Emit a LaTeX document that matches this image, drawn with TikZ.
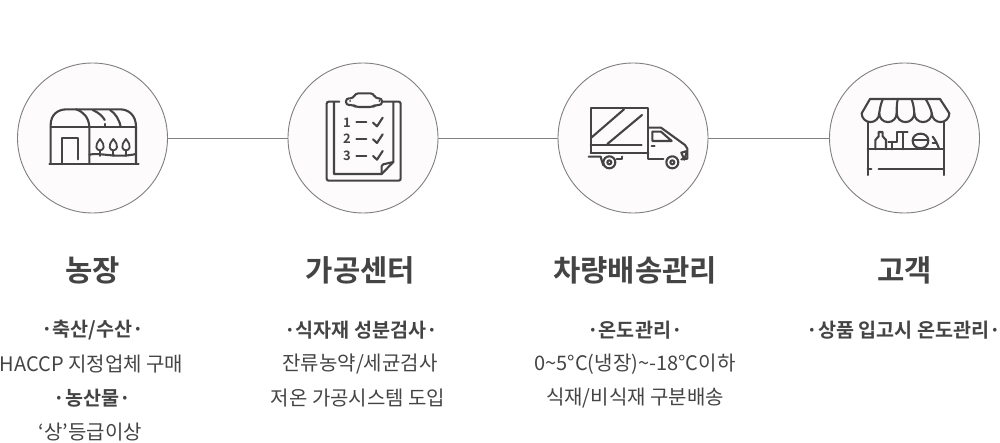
\documentclass[tikz,border=0pt]{standalone}
\usepackage{fontspec}
\setmainfont{Noto Sans CJK KR}[BoldFont={Noto Sans CJK KR Bold}]
\definecolor{ink}{HTML}{444444}
\definecolor{ringc}{HTML}{808080}
\definecolor{fillc}{HTML}{FDFBFC}
\tikzset{
 ring/.style={circle,draw=ringc,fill=fillc,line width=.9pt,minimum size=150pt,inner sep=0pt},
 link/.style={draw=ringc,line width=.9pt},
 title/.style={text=ink,font=\bfseries\fontsize{29.7}{32}\selectfont,inner sep=0pt,anchor=center},
 head/.style={text=ink,font=\bfseries\fontsize{19.6}{22}\selectfont,inner sep=0pt,anchor=center},
 body/.style={text=ink,font=\fontsize{20}{22}\selectfont,inner sep=0pt,anchor=center},
 icon/.style={draw=ink,line width=2.1pt,line cap=round,line join=round},
 iconbox/.style={x=.33333pt,y=-.33333pt},
 digit/.style={text=ink,font=\bfseries\fontsize{13}{14}\selectfont,inner sep=0pt}
}
\begin{document}
\begin{tikzpicture}[x=1pt,y=-1pt]
\useasboundingbox (0,0) rectangle (1000,443);
\fill[white] (0,0) rectangle (1000,443);
\node[ring] (farm) at (92.5,138) {};
\node[ring] (proc) at (363,138) {};
\node[ring] (truck) at (633,138) {};
\node[ring] (shop) at (904.5,138) {};
\draw[link] (farm) -- (proc);
\draw[link] (proc) -- (truck);
\draw[link] (truck) -- (shop);
% farm icon
\begin{scope}[shift={(0,60)},iconbox]
\draw[icon] (148,312) -- (416,312);
\draw[icon] (152,312) -- (152,195) .. controls (152,165) and (172,148) .. (200,148) -- (360,148) .. controls (388,148) and (408,168) .. (408,200) -- (408,312);
\draw[icon] (152,202) -- (408,202);
\draw[icon] (268,312) -- (268,200) .. controls (266,172) and (250,155) .. (228,148);
\draw[icon] (278,150) .. controls (298,158) and (310,172) .. (314,180);
\draw[icon] (316,192) -- (316,201);
\draw[icon] (330,150) .. controls (346,160) and (358,178) .. (362,201);
\draw[icon] (185,312) -- (185,235) -- (233,235) -- (233,298);
\draw[icon] (268,284) .. controls (300,276) and (345,296) .. (408,282);
\foreach \tx in {300,340,378}{
 \draw[icon,line width=1.8pt] (\tx,237) .. controls (\tx-8,248) and (\tx-13,255) .. (\tx-11,262) .. controls (\tx-9,274) and (\tx+9,274) .. (\tx+11,262) .. controls (\tx+13,255) and (\tx+8,248) .. (\tx,237) -- cycle;
 \draw[icon,line width=1.8pt] (\tx,272) -- (\tx,288);
}
\end{scope}
% clipboard icon
\begin{scope}[shift={(280,60)},iconbox]
\draw[icon,rounded corners=2pt] (178,125) -- (140,125) -- (140,362) -- (362,362) -- (362,125) -- (308,125);
\draw[icon] (162,127) -- (162,342) -- (305,342) -- (340,306) -- (340,127);
\draw[icon,rounded corners=1.5pt] (305,342) -- (305,314) -- (340,306);
\draw[icon,rounded corners=3pt] (198,115) -- (220,115) -- (226,100) -- (280,100) -- (286,115) -- (306,115) -- (306,135) -- (286,135) -- (278,141) -- (228,141) -- (220,135) -- (198,135) -- cycle;
\fill[ink] (210,123) circle[radius=3];
\fill[ink] (298,123) circle[radius=3];
\node[digit] (n1) at (201,187) {1};
\node[digit] (n2) at (201,237) {2};
\node[digit] (n3) at (201,287) {3};
\foreach \ty in {187,237,287}{
 \draw[icon] (229,\ty) -- (259,\ty);
 \draw[icon] (279,\ty+1) -- (291,\ty+12) -- (308,\ty-14);
}
\end{scope}
% truck icon
\begin{scope}[shift={(550,60)},iconbox]
\draw[icon] (122,278) -- (122,145) -- (295,145) -- (295,296);
\draw[icon] (122,255) -- (275,255);
\draw[icon] (122,278) -- (295,278);
\draw[icon] (125,232) -- (222,148);
\draw[icon] (172,252) -- (276,165);
\draw[icon] (116,290) -- (152,290) .. controls (155,300) and (156,306) .. (160,316);
\draw[icon] (200,296) -- (216,296) -- (216,290);
\draw[icon] (178,307) circle[radius=6];
\draw[icon] (178,307) circle[radius=18];
\draw[icon] (295,296) -- (340,296);
\draw[icon] (367,307) circle[radius=6];
\draw[icon] (367,307) circle[radius=18];
\draw[icon] (297,203) -- (333,203) -- (405,255) -- (412,266) -- (412,296) -- (394,298);
\draw[icon] (307,215) -- (333,215) -- (365,243) -- (307,243) -- cycle;
\draw[icon] (305,257) -- (314,257);
\draw[icon] (394,278) -- (411,273) -- (403,299) -- cycle;
\end{scope}
% shop icon
\begin{scope}[shift={(820,60)},iconbox]
\draw[icon] (125,160) -- (150,117) -- (360,117) -- (388,160);
\draw[icon] (125,160) arc[start angle=180,end angle=0,radius=26.3];
\draw[icon] (177.6,160) arc[start angle=180,end angle=0,radius=26.3];
\draw[icon] (230.2,160) arc[start angle=180,end angle=0,radius=26.3];
\draw[icon] (282.8,160) arc[start angle=180,end angle=0,radius=26.3];
\draw[icon] (335.4,160) arc[start angle=180,end angle=0,radius=26.3];
\draw[icon] (177.6,160) .. controls (180,145) and (182,132) .. (188,119);
\draw[icon] (230.2,160) .. controls (230,145) and (230,132) .. (233,119);
\draw[icon] (282.8,160) .. controls (282,145) and (280,132) .. (275,119);
\draw[icon] (335.4,160) .. controls (332,145) and (326,132) .. (318,119);
\draw[icon] (143,186) -- (143,345);
\draw[icon] (372,186) -- (372,345);
\draw[icon] (143,268) -- (372,268);
\draw[icon] (143,326) -- (154,326);
\draw[icon] (176,326) -- (372,326);
\draw[icon] (166,268) -- (166,240) -- (176,229) -- (176,216) -- (188,216) -- (188,229) -- (198,240) -- (198,268);
\draw[icon] (205,246) -- (232,246) -- (232,217) -- (263,217);
\draw[icon] (216,246) -- (216,268);
\draw[icon] (248,217) -- (248,268);
\draw[icon] (278,242) .. controls (278,214) and (325,214) .. (325,242) .. controls (325,272) and (278,272) .. (278,242);
\draw[icon] (278,241) -- (325,241);
\draw[icon] (338,230) .. controls (346,240) and (352,252) .. (357,266);
\draw[icon] (338,248) -- (347,248);
\end{scope}
% titles
\node[title] (t1) at (92.5,270) {농장};
\node[title] (t2) at (360.5,270) {가공센터};
\node[title] (t3) at (635,270) {차량배송관리};
\node[title] (t4) at (904.5,270) {고객};
% text column 1
\node[head] (a1) at (92.5,330) {·축산/수산·};
\node[body] (a2) at (91.5,364) {HACCP 지정업체 구매};
\node[head] (a3) at (92.5,398) {·농산물·};
\node[body] (a4) at (90.5,432) {‘상’등급이상};
% text column 2
\node[head] (b1) at (361,330) {·식자재 성분검사·};
\node[body] (b2) at (360,364) {잔류농약/세균검사};
\node[body] (b3) at (358,398) {저온 가공시스템 도입};
% text column 3
\node[head] (c1) at (635,330) {·온도관리·};
\node[body] (c2) at (635,364) {0\textasciitilde5°C(냉장)\textasciitilde-18°C이하};
\node[body] (c3) at (635,398) {식재/비식재 구분배송};
% text column 4
\node[head] (d1) at (904,330) {·상품 입고시 온도관리·};
\end{tikzpicture}
\end{document}
